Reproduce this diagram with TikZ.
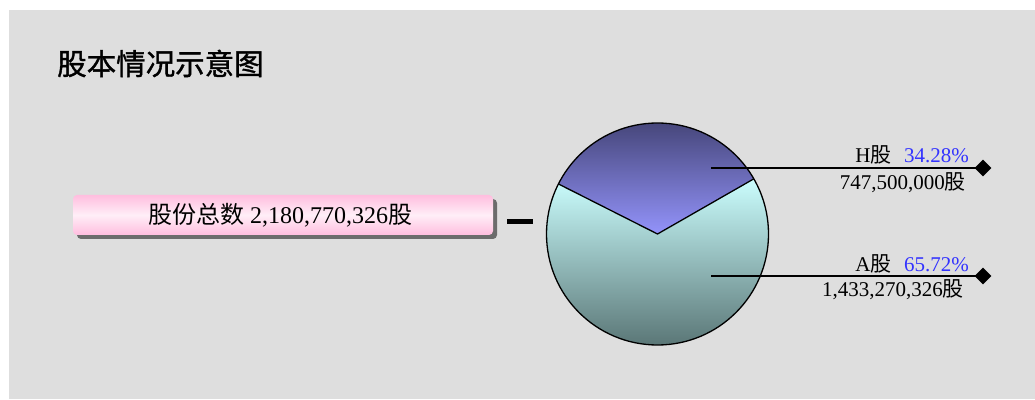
\documentclass[tikz,border=0pt]{standalone}
\usepackage{fontspec}
\setmainfont{Liberation Serif}
\newfontfamily\cjk{Noto Sans CJK SC}
\newfontfamily\cjktitle[FakeBold=1.2]{Noto Sans CJK SC}
\usetikzlibrary{shapes.geometric,calc}
\definecolor{bggray}{HTML}{DEDEDE}
\definecolor{htop}{HTML}{46467A}
\definecolor{hbot}{HTML}{9494FC}
\definecolor{atop}{HTML}{CCFFFF}
\definecolor{abot}{HTML}{5A7676}
\definecolor{pctblue}{HTML}{3333FF}
\definecolor{pinkA}{HTML}{FF99CC}
\definecolor{pinkB}{HTML}{FFB0D8}
\definecolor{pinkC}{HTML}{FFEEF7}
\pgfdeclareverticalshading{pinkbar}{100bp}{
  color(0bp)=(pinkA);
  color(18bp)=(pinkB);
  color(50bp)=(pinkC);
  color(82bp)=(pinkB);
  color(100bp)=(pinkA)}
\newcommand\GuZi{{\cjk 股}}
\tikzset{
  lbl/.style={inner sep=0pt, font=\fontsize{21}{24}\selectfont, anchor=base east},
  leader/.style={line width=1.7pt, black},
  tipmark/.style={diamond, fill=black, inner sep=0pt, minimum width=17pt, minimum height=17pt},
  pieline/.style={line width=1.3pt, black, line join=round}
}
\begin{document}
\begin{tikzpicture}[x=1pt,y=1pt]
\useasboundingbox (0,0) rectangle (1035,399);
\fill[bggray] (9,0) rectangle (1035,389);
% title
\node[anchor=west, inner sep=0pt, font=\cjktitle\fontsize{29.5}{32}\selectfont] (title) at (57,335.5) {股本情况示意图};
% pink box with shadow
\fill[gray!85!black, rounded corners=4pt] (77,160) rectangle (497,200);
\shade[shading=pinkbar, rounded corners=4pt] (73,164) rectangle (493,204);
\node[inner sep=0pt, font=\fontsize{24}{28}\selectfont] (total) at (280,184) {{\cjk 股份总数} 2,180,770,326\GuZi};
% dash
\fill[black] (507,175) rectangle (533,180);
% pie
\coordinate (C) at (657.5,165);
\begin{scope}
  \clip (C) -- ++(29.8:111) arc (29.8:153.2:111) -- cycle;
  \shade[top color=htop, bottom color=hbot] (545,277) rectangle (770,164);
\end{scope}
\begin{scope}
  \clip (C) -- ++(153.2:111) arc (153.2:389.8:111) -- cycle;
  \shade[top color=atop, bottom color=abot] (545,222) rectangle (770,53);
\end{scope}
\draw[pieline] (C) circle[radius=111];
\draw[pieline] ($(C)+(153.2:111)$) -- (C) -- ($(C)+(29.8:111)$);
% leaders
\coordinate (hin) at (711,231);
\coordinate (ain) at (711,123);
\node[tipmark] (hd) at (983,231) {};
\node[tipmark] (ad) at (983,123) {};
\draw[leader] (hin) -- (hd.center);
\draw[leader] (ain) -- (ad.center);
% labels
\node[lbl] (hname) at (969,236) {H\GuZi\hspace{0.6em}\textcolor{pctblue}{34.28\%}};
\node[lbl] (hnum) at (966,209) {747,500,000\GuZi};
\node[lbl] (aname) at (969,127.5) {A\GuZi\hspace{0.6em}\textcolor{pctblue}{65.72\%}};
\node[lbl] (anum) at (964,102.5) {1,433,270,326\GuZi};
\end{tikzpicture}
\end{document}
